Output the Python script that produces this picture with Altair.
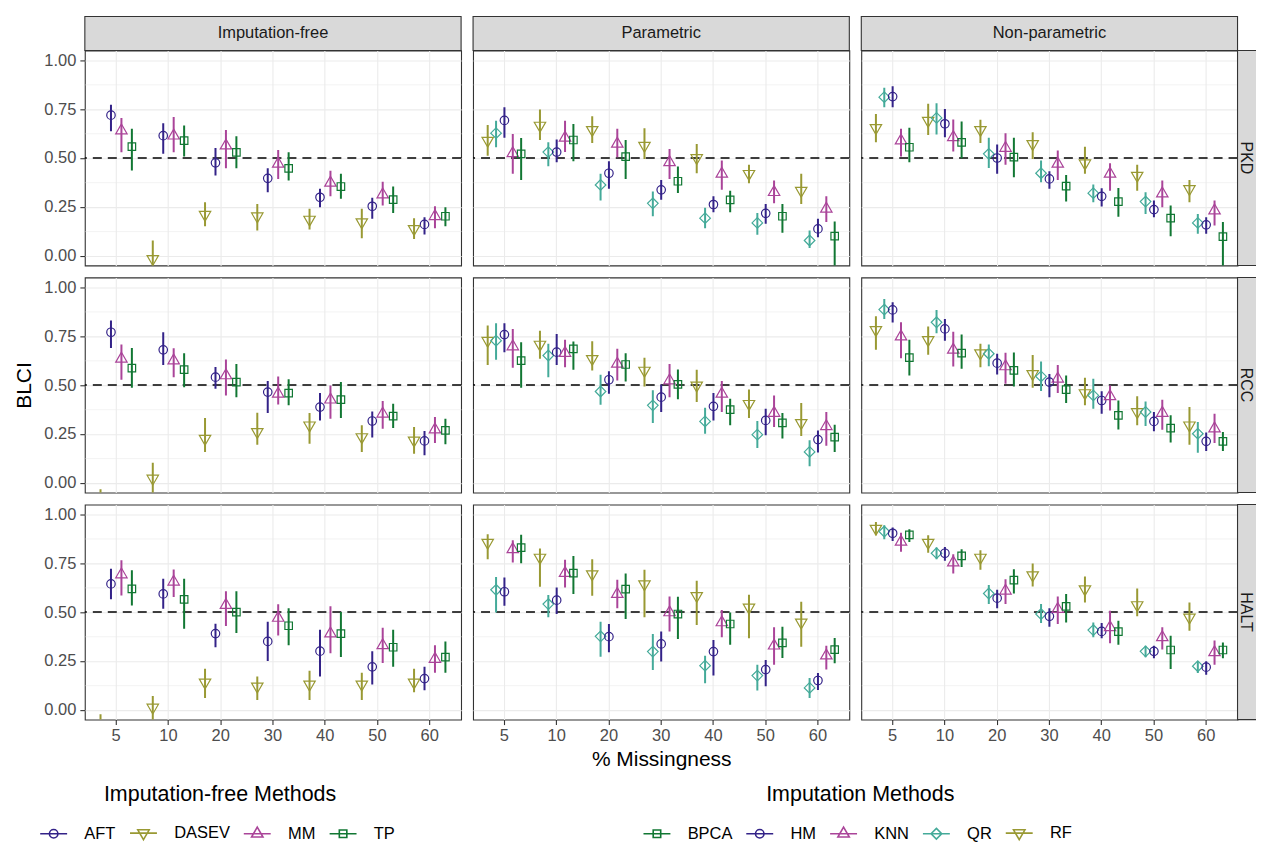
import altair as alt
import pandas as pd

FONT = "Liberation Sans"

MISSINGNESS = [5, 10, 20, 30, 40, 50, 60]
OUTCOMES = ["PKD", "RCC", "HALT"]
GROUPS = ["Imputation-free", "Parametric", "Non-parametric"]
REF_LINE = 0.5

IF_METHODS = ["AFT", "DASEV", "MM", "TP"]
IF_COLORS = ["#332288", "#999933", "#AA4499", "#117733"]
IF_DODGE = ["DASEV", "AFT", "MM", "TP"]
IM_METHODS = ["BPCA", "HM", "KNN", "QR", "RF"]
IM_COLORS = ["#117733", "#332288", "#AA4499", "#44AA99", "#999933"]
IM_DODGE = ["RF", "QR", "HM", "KNN", "BPCA"]

# (estimate, lower, upper) at 5, 10, 20, 30, 40, 50, 60 % missingness
PKD_IF = {
    "AFT": [(0.719, 0.637, 0.772), (0.614, 0.521, 0.678), (0.475, 0.410, 0.551), (0.396, 0.325, 0.447), (0.299, 0.248, 0.342), (0.253, 0.189, 0.296), (0.160, 0.108, 0.197)],
    "DASEV": [(-0.15, -0.25, -0.07), (-0.016, -0.10, 0.078), (0.210, 0.151, 0.274), (0.202, 0.129, 0.265), (0.185, 0.134, 0.240), (0.172, 0.090, 0.240), (0.137, 0.086, 0.192)],
    "MM": [(0.640, 0.529, 0.705), (0.614, 0.529, 0.709), (0.563, 0.447, 0.643), (0.470, 0.393, 0.541), (0.373, 0.304, 0.435), (0.313, 0.257, 0.379), (0.202, 0.141, 0.253)],
    "TP": [(0.558, 0.436, 0.649), (0.589, 0.507, 0.666), (0.529, 0.447, 0.611), (0.447, 0.385, 0.529), (0.354, 0.291, 0.419), (0.287, 0.219, 0.354), (0.202, 0.151, 0.248)],
}
PKD_PAR = {
    "RF": [(0.589, 0.512, 0.669), (0.666, 0.592, 0.748), (0.644, 0.577, 0.713), (0.563, 0.495, 0.652), (0.500, 0.422, 0.572), (0.419, 0.371, 0.466), (0.333, 0.265, 0.419)],
    "QR": [(0.627, 0.555, 0.691), (0.530, 0.458, 0.580), (0.362, 0.282, 0.419), (0.268, 0.202, 0.328), (0.192, 0.141, 0.245), (0.168, 0.107, 0.219), (0.078, 0.040, 0.129)],
    "HM": [(0.692, 0.603, 0.760), (0.530, 0.478, 0.594), (0.422, 0.342, 0.483), (0.337, 0.287, 0.388), (0.262, 0.222, 0.304), (0.217, 0.163, 0.265), (0.137, 0.095, 0.189)],
    "KNN": [(0.524, 0.419, 0.623), (0.603, 0.530, 0.691), (0.572, 0.504, 0.649), (0.478, 0.393, 0.546), (0.419, 0.337, 0.487), (0.325, 0.268, 0.385), (0.240, 0.172, 0.304)],
    "BPCA": [(0.521, 0.388, 0.602), (0.592, 0.483, 0.674), (0.507, 0.393, 0.592), (0.381, 0.321, 0.456), (0.286, 0.222, 0.333), (0.202, 0.117, 0.265), (0.100, -0.07, 0.175)],
}
PKD_NP = {
    "RF": [(0.654, 0.580, 0.725), (0.691, 0.618, 0.777), (0.644, 0.577, 0.695), (0.572, 0.495, 0.631), (0.473, 0.419, 0.558), (0.410, 0.333, 0.466), (0.342, 0.274, 0.388)],
    "QR": [(0.811, 0.760, 0.859), (0.705, 0.620, 0.780), (0.521, 0.449, 0.603), (0.422, 0.376, 0.487), (0.320, 0.274, 0.364), (0.277, 0.214, 0.325), (0.168, 0.112, 0.214)],
    "HM": [(0.814, 0.760, 0.867), (0.675, 0.606, 0.751), (0.500, 0.419, 0.569), (0.393, 0.342, 0.432), (0.304, 0.252, 0.345), (0.236, 0.197, 0.282), (0.158, 0.112, 0.197)],
    "KNN": [(0.589, 0.507, 0.649), (0.606, 0.533, 0.697), (0.551, 0.466, 0.627), (0.470, 0.388, 0.538), (0.419, 0.333, 0.473), (0.318, 0.248, 0.385), (0.231, 0.155, 0.282)],
    "BPCA": [(0.555, 0.478, 0.654), (0.580, 0.499, 0.686), (0.504, 0.401, 0.603), (0.356, 0.277, 0.413), (0.277, 0.200, 0.347), (0.192, 0.100, 0.257), (0.098, -0.07, 0.172)],
}
RCC_IF = {
    "AFT": [(0.770, 0.690, 0.830), (0.680, 0.603, 0.770), (0.540, 0.481, 0.592), (0.464, 0.357, 0.520), (0.387, 0.319, 0.459), (0.316, 0.231, 0.365), (0.214, 0.141, 0.265)],
    "DASEV": [(-0.12, -0.20, -0.033), (0.022, -0.07, 0.102), (0.226, 0.158, 0.331), (0.260, 0.195, 0.358), (0.294, 0.200, 0.357), (0.234, 0.158, 0.294), (0.217, 0.149, 0.285)],
    "MM": [(0.634, 0.527, 0.707), (0.625, 0.540, 0.688), (0.549, 0.447, 0.630), (0.455, 0.401, 0.544), (0.425, 0.328, 0.498), (0.353, 0.277, 0.418), (0.272, 0.204, 0.336)],
    "TP": [(0.586, 0.486, 0.690), (0.579, 0.489, 0.663), (0.515, 0.438, 0.608), (0.459, 0.396, 0.529), (0.425, 0.331, 0.515), (0.341, 0.280, 0.404), (0.268, 0.197, 0.328)],
}
RCC_PAR = {
    "RF": [(0.727, 0.603, 0.804), (0.707, 0.634, 0.778), (0.634, 0.574, 0.724), (0.574, 0.493, 0.639), (0.498, 0.413, 0.578), (0.404, 0.331, 0.477), (0.306, 0.239, 0.408)],
    "QR": [(0.727, 0.629, 0.816), (0.651, 0.540, 0.711), (0.467, 0.399, 0.552), (0.396, 0.306, 0.473), (0.314, 0.251, 0.384), (0.246, 0.178, 0.316), (0.158, 0.085, 0.217)],
    "HM": [(0.758, 0.668, 0.816), (0.668, 0.603, 0.761), (0.527, 0.456, 0.571), (0.438, 0.362, 0.503), (0.391, 0.319, 0.459), (0.319, 0.243, 0.379), (0.221, 0.155, 0.268)],
    "KNN": [(0.697, 0.588, 0.787), (0.663, 0.591, 0.731), (0.608, 0.523, 0.685), (0.523, 0.438, 0.608), (0.455, 0.362, 0.520), (0.357, 0.285, 0.447), (0.289, 0.189, 0.362)],
    "BPCA": [(0.625, 0.486, 0.719), (0.685, 0.578, 0.722), (0.605, 0.518, 0.663), (0.503, 0.427, 0.580), (0.374, 0.294, 0.430), (0.306, 0.226, 0.357), (0.234, 0.158, 0.297)],
}
RCC_NP = {
    "RF": [(0.782, 0.680, 0.852), (0.731, 0.655, 0.799), (0.663, 0.591, 0.711), (0.557, 0.486, 0.654), (0.459, 0.396, 0.537), (0.362, 0.294, 0.442), (0.294, 0.195, 0.387)],
    "QR": [(0.886, 0.838, 0.940), (0.821, 0.765, 0.884), (0.660, 0.596, 0.707), (0.544, 0.469, 0.620), (0.447, 0.379, 0.532), (0.362, 0.291, 0.416), (0.251, 0.153, 0.311)],
    "HM": [(0.884, 0.820, 0.923), (0.787, 0.727, 0.838), (0.612, 0.554, 0.660), (0.515, 0.438, 0.557), (0.421, 0.353, 0.468), (0.314, 0.263, 0.362), (0.212, 0.163, 0.257)],
    "KNN": [(0.748, 0.637, 0.821), (0.680, 0.595, 0.773), (0.595, 0.506, 0.665), (0.532, 0.459, 0.603), (0.442, 0.370, 0.498), (0.357, 0.271, 0.425), (0.277, 0.204, 0.353)],
    "BPCA": [(0.640, 0.549, 0.731), (0.663, 0.583, 0.758), (0.575, 0.493, 0.666), (0.476, 0.408, 0.549), (0.345, 0.273, 0.421), (0.280, 0.206, 0.345), (0.212, 0.163, 0.260)],
}
HALT_IF = {
    "AFT": [(0.644, 0.565, 0.721), (0.593, 0.517, 0.670), (0.390, 0.320, 0.440), (0.350, 0.250, 0.450), (0.300, 0.170, 0.410), (0.220, 0.130, 0.300), (0.160, 0.100, 0.220)],
    "DASEV": [(-0.12, -0.20, -0.022), (0.012, -0.07, 0.071), (0.140, 0.060, 0.210), (0.120, 0.050, 0.170), (0.130, 0.050, 0.200), (0.130, 0.050, 0.190), (0.140, 0.090, 0.210)],
    "MM": [(0.692, 0.585, 0.765), (0.655, 0.577, 0.718), (0.536, 0.429, 0.607), (0.470, 0.380, 0.540), (0.390, 0.290, 0.530), (0.330, 0.240, 0.420), (0.260, 0.190, 0.330)],
    "TP": [(0.619, 0.534, 0.714), (0.565, 0.415, 0.670), (0.500, 0.393, 0.607), (0.430, 0.330, 0.520), (0.390, 0.270, 0.500), (0.320, 0.220, 0.410), (0.270, 0.190, 0.350)],
}
HALT_PAR = {
    "RF": [(0.855, 0.770, 0.898), (0.779, 0.629, 0.825), (0.694, 0.583, 0.770), (0.643, 0.473, 0.716), (0.583, 0.434, 0.660), (0.524, 0.366, 0.588), (0.447, 0.323, 0.553)],
    "QR": [(0.614, 0.498, 0.680), (0.541, 0.473, 0.587), (0.376, 0.272, 0.451), (0.298, 0.204, 0.388), (0.226, 0.136, 0.277), (0.175, 0.099, 0.231), (0.112, 0.061, 0.163)],
    "HM": [(0.604, 0.532, 0.677), (0.561, 0.490, 0.626), (0.374, 0.294, 0.439), (0.337, 0.247, 0.400), (0.298, 0.175, 0.357), (0.206, 0.121, 0.255), (0.150, 0.102, 0.189)],
    "KNN": [(0.821, 0.753, 0.867), (0.699, 0.626, 0.767), (0.592, 0.519, 0.665), (0.498, 0.400, 0.580), (0.447, 0.371, 0.510), (0.328, 0.231, 0.422), (0.277, 0.206, 0.328)],
    "BPCA": [(0.830, 0.750, 0.895), (0.699, 0.592, 0.787), (0.617, 0.464, 0.697), (0.490, 0.362, 0.578), (0.439, 0.333, 0.498), (0.342, 0.265, 0.425), (0.308, 0.238, 0.367)],
}
HALT_NP = {
    "RF": [(0.927, 0.893, 0.961), (0.855, 0.804, 0.893), (0.779, 0.716, 0.816), (0.689, 0.631, 0.748), (0.617, 0.549, 0.682), (0.536, 0.478, 0.621), (0.473, 0.405, 0.549)],
    "QR": [(0.912, 0.872, 0.944), (0.801, 0.770, 0.830), (0.595, 0.541, 0.638), (0.490, 0.444, 0.541), (0.408, 0.371, 0.447), (0.299, 0.269, 0.328), (0.223, 0.189, 0.248)],
    "HM": [(0.903, 0.864, 0.932), (0.801, 0.762, 0.833), (0.571, 0.520, 0.614), (0.478, 0.425, 0.519), (0.401, 0.366, 0.444), (0.299, 0.264, 0.328), (0.218, 0.180, 0.248)],
    "KNN": [(0.859, 0.808, 0.906), (0.753, 0.697, 0.796), (0.609, 0.541, 0.668), (0.515, 0.439, 0.580), (0.422, 0.340, 0.507), (0.371, 0.308, 0.422), (0.294, 0.231, 0.354)],
    "BPCA": [(0.895, 0.859, 0.923), (0.787, 0.731, 0.821), (0.663, 0.595, 0.719), (0.529, 0.447, 0.592), (0.400, 0.333, 0.456), (0.306, 0.209, 0.379), (0.306, 0.264, 0.345)],
}

PANELS = {
    ("PKD", "Imputation-free"): PKD_IF, ("PKD", "Parametric"): PKD_PAR, ("PKD", "Non-parametric"): PKD_NP,
    ("RCC", "Imputation-free"): RCC_IF, ("RCC", "Parametric"): RCC_PAR, ("RCC", "Non-parametric"): RCC_NP,
    ("HALT", "Imputation-free"): HALT_IF, ("HALT", "Parametric"): HALT_PAR, ("HALT", "Non-parametric"): HALT_NP,
}

# ---- symbol shapes (hollow, R-like proportions) ----
CIRCLE = "circle"
CIRCLE_PATH = "M-1,0A1,1 0 1,1 1,0A1,1 0 1,1 -1,0Z"
SQUARE = "M-0.886,-0.886H0.886V0.886H-0.886Z"
TRI_UP = "M0,-1.555L1.347,0.778L-1.347,0.778Z"
TRI_DOWN = "M0,1.555L1.347,-0.778L-1.347,-0.778Z"
DIAMOND = "M0,-1.253L1.253,0L0,1.253L-1.253,0Z"
KEY_LINE = "M-3.18,0H3.18"

IF_SHAPES = [CIRCLE, TRI_DOWN, TRI_UP, SQUARE]
IM_SHAPES = [SQUARE, CIRCLE, TRI_UP, DIAMOND, TRI_DOWN]


def key_paths(shapes):
    return [KEY_LINE + (CIRCLE_PATH if s == CIRCLE else s) for s in shapes]


W, H = 377, 215.5
STRIP = 34
PT_SIZE = 72

Y_VALUES = [i / 8 for i in range(9)]
MINOR = "round(datum.value * 8) % 2 == 1"
y_scale = alt.Scale(domain=[-0.05, 1.05], nice=False, zero=False)
x_scale = alt.Scale(paddingInner=0.2, paddingOuter=0.2)


def y_axis(show_labels, title):
    return alt.Axis(
        values=Y_VALUES,
        labels=show_labels,
        ticks=show_labels,
        labelExpr="round(datum.value * 8) % 2 == 0 ? format(datum.value, '.2f') : ''",
        tickColor={"condition": {"test": MINOR, "value": "transparent"}, "value": "#333333"},
        gridWidth={"condition": {"test": MINOR, "value": 0.6}, "value": 1.1},
        labelOverlap=False, labelPadding=4, titlePadding=9,
        title=title,
    )


def x_axis(show_labels, title):
    return alt.Axis(labelAngle=0, grid=True, bandPosition=0.5, gridWidth=1.1,
                    labels=show_labels, ticks=show_labels,
                    labelPadding=3, titlePadding=4, title=title)


def make_legend(title, lx, ly):
    return alt.Legend(
        title=title, orient="none", legendX=lx, legendY=ly, direction="horizontal",
        titleAnchor="middle", titleFontSize=21.5, titlePadding=19, titleFont=FONT,
        titleFontWeight="normal", titleColor="black", titleLimit=600,
        labelFontSize=16.5, labelFont=FONT, labelColor="black",
        symbolSize=PT_SIZE, symbolStrokeWidth=1.6, labelOffset=22.5, columnPadding=10,
        symbolOpacity=1,
    )


def make_panel(r, c, outcome, group):
    free = group == GROUPS[0]
    methods = IF_METHODS if free else IM_METHODS
    colors = IF_COLORS if free else IM_COLORS
    dodge = IF_DODGE if free else IM_DODGE
    shapes = IF_SHAPES if free else IM_SHAPES

    rows = []
    for method, triples in PANELS[(outcome, group)].items():
        for miss, (est, lo, hi) in zip(MISSINGNESS, triples):
            rows.append(dict(method=method, miss=miss, est=est, lo=lo, hi=hi))
    data = pd.DataFrame(rows)

    yax = y_axis(c == 0, "BLCI" if (c == 0 and r == 1) else None)
    xax = x_axis(r == 2, "% Missingness" if (r == 2 and c == 1) else None)
    x = alt.X("miss:O", scale=x_scale, axis=xax)
    xo = alt.XOffset("method:N", scale=alt.Scale(domain=dodge, paddingInner=0, paddingOuter=0))
    color = alt.Color("method:N", scale=alt.Scale(domain=methods, range=colors), legend=None)

    base = alt.Chart(data)
    dash = alt.Chart(pd.DataFrame({"ref": [REF_LINE]})).mark_rule(
        color="black", strokeWidth=1.6, strokeDash=[9, 6]
    ).encode(y=alt.Y("ref:Q", scale=y_scale, axis=yax))
    bars = base.mark_rule(strokeWidth=2, clip=True).encode(
        x=x, xOffset=xo, y=alt.Y("lo:Q", scale=y_scale, axis=yax), y2="hi:Q", color=color)
    pts = base.mark_point(filled=False, size=PT_SIZE, strokeWidth=1.2, opacity=1, clip=True).encode(
        x=x, xOffset=xo, y=alt.Y("est:Q", scale=y_scale, axis=yax), color=color,
        shape=alt.Shape("method:N", scale=alt.Scale(domain=methods, range=shapes), legend=None))
    layers = [dash, bars, pts]

    if r == 2 and c < 2:
        if free:
            legend = make_legend("Imputation-free Methods", -39.5, 280)
        else:
            legend = make_legend("Imputation Methods", 176, 280)
        key = base.transform_filter(alt.datum.est > 99).mark_point(
            filled=False, size=PT_SIZE, strokeWidth=1.6
        ).encode(
            color=alt.Color("method:N", scale=alt.Scale(domain=methods, range=colors), legend=legend),
            shape=alt.Shape("method:N", scale=alt.Scale(domain=methods, range=key_paths(shapes)), legend=legend),
        )
        layers.append(key)

    if r == 0:
        strip = alt.Chart(pd.DataFrame({"label": [group]}))
        layers.append(strip.mark_rect(fill="#D9D9D9", stroke="#333333", strokeWidth=1.1).encode(
            x=alt.value(0), x2=alt.value(W), y=alt.value(-STRIP), y2=alt.value(0)))
        layers.append(strip.mark_text(font=FONT, fontSize=16.5, color="#1A1A1A").encode(
            x=alt.value(W / 2), y=alt.value(-STRIP / 2), text="label:N"))
    if c == 2:
        strip = alt.Chart(pd.DataFrame({"label": [outcome]}))
        layers.append(strip.mark_rect(fill="#D9D9D9", stroke="#333333", strokeWidth=1.1).encode(
            x=alt.value(W), x2=alt.value(W + STRIP), y=alt.value(0), y2=alt.value(H)))
        layers.append(strip.mark_text(font=FONT, fontSize=16, color="#1A1A1A", angle=90).encode(
            x=alt.value(W + 8.5), y=alt.value(H / 2), text="label:N"))

    return alt.layer(*layers).resolve_scale(
        color="independent", shape="independent"
    ).properties(width=W, height=H)


panels = [make_panel(r, c, o, g) for r, o in enumerate(OUTCOMES) for c, g in enumerate(GROUPS)]

chart = alt.concat(
    *panels, columns=3, spacing={"row": 11.5, "column": 12}, bounds="flush"
).resolve_scale(
    color="independent", shape="independent", xOffset="independent"
).properties(
    padding={"left": 5, "top": 5.7, "right": -17.5, "bottom": -2.5},
    background="white",
).configure_view(
    stroke="#333333", strokeWidth=1.1
).configure_axis(
    labelFont=FONT, labelFontSize=16.5, labelColor="#4D4D4D",
    titleFont=FONT, titleFontSize=21, titleFontWeight="normal", titleColor="black",
    tickColor="#333333", tickSize=5, tickWidth=1.1, domain=False,
    gridColor="#EBEBEB",
)

chart.save("out.html", embed_options={"renderer": "svg", "actions": False})
